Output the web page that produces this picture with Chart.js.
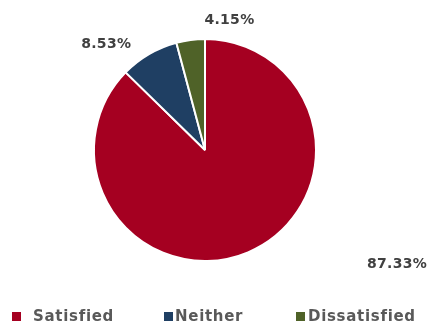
<!DOCTYPE html>
<html>
<head>
<meta charset="utf-8">
<script src="https://cdn.jsdelivr.net/npm/chart.js@4/dist/chart.umd.min.js"></script>
<style>
  html, body { margin: 0; padding: 0; background: #ffffff; }
  #wrap { width: 427px; height: 327px; position: relative; }
</style>
</head>
<body>
<div id="wrap"><canvas id="c" width="427" height="327"></canvas></div>
<script>
// Survey responses (share of respondents, %)
const categories = ['Satisfied', 'Neither', 'Dissatisfied'];
const shares = [87.33, 8.53, 4.15];
const sliceColors = ['#A50021', '#1F3F63', '#4F6228'];

// Label placement: offsets from the pie centre, in units of the pie radius
const labelOffsets = [[1.73, 1.03], [-0.89, -0.955], [0.22, -1.17]];
// Legend item layout: marker x, text x
const legendSlots = [[12, 33], [164, 175], [296, 308]];

const labelPlugin = {
  id: 'sliceLabels',
  afterDatasetsDraw(chart) {
    const ctx = chart.ctx;
    const meta = chart.getDatasetMeta(0);
    const arc0 = meta.data[0];
    const cx = arc0.x, cy = arc0.y, r = arc0.outerRadius;
    ctx.save();
    ctx.font = 'bold 14px "DejaVu Sans", sans-serif';
    ctx.letterSpacing = '0.3px';
    ctx.fillStyle = '#404040';
    ctx.textAlign = 'center';
    ctx.textBaseline = 'middle';
    shares.forEach((v, i) => {
      const [ox, oy] = labelOffsets[i];
      ctx.fillText(v.toFixed(2) + '%', cx + ox * r, cy + oy * r);
    });
    ctx.restore();
  }
};

const legendPlugin = {
  id: 'bottomLegend',
  afterDraw(chart) {
    const ctx = chart.ctx;
    const y = 317;
    ctx.save();
    ctx.font = 'bold 15px "DejaVu Sans", sans-serif';
    ctx.letterSpacing = '0.7px';
    ctx.textBaseline = 'middle';
    ctx.textAlign = 'left';
    categories.forEach((name, i) => {
      const [mx, tx] = legendSlots[i];
      ctx.fillStyle = sliceColors[i];
      ctx.fillRect(mx, y - 5, 9, 9);
      ctx.fillStyle = '#595959';
      ctx.fillText(name, tx, y);
    });
    ctx.restore();
  }
};

new Chart(document.getElementById('c'), {
  type: 'pie',
  data: {
    labels: categories,
    datasets: [{
      data: shares,
      backgroundColor: sliceColors,
      borderColor: '#ffffff',
      borderWidth: 2
    }]
  },
  options: {
    responsive: false,
    animation: false,
    rotation: 0,
    layout: { padding: { left: 93, right: 110, top: 38, bottom: 65 } },
    plugins: {
      legend: { display: false },
      tooltip: { enabled: false }
    }
  },
  plugins: [labelPlugin, legendPlugin]
});
</script>
</body>
</html>
